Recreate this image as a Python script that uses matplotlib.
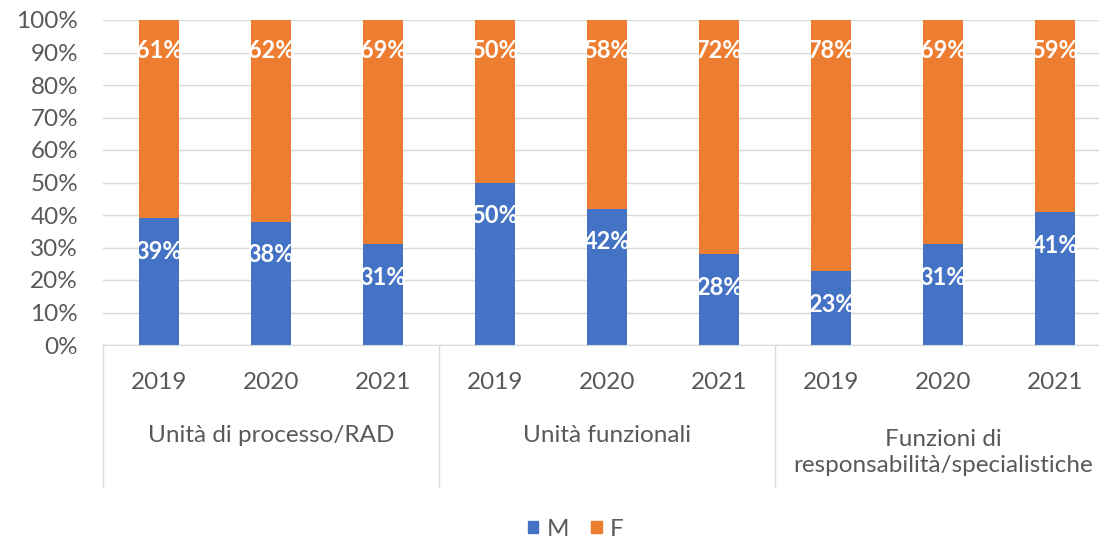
import matplotlib
matplotlib.use("Agg")
import matplotlib.pyplot as plt
import matplotlib.transforms as mtransforms
from matplotlib.lines import Line2D
from matplotlib.patches import Patch

plt.rcParams['font.family'] = ['Lato', 'DejaVu Sans']

groups = ["Unità di processo/RAD", "Unità funzionali", "Funzioni di\nresponsabilità/specialistiche"]
years = ["2019", "2020", "2021"]
m_vals = [39, 38, 31, 50, 42, 28, 23, 31, 41]
f_vals = [61, 62, 69, 50, 58, 72, 78, 69, 59]
y_ticks = [0, 10, 20, 30, 40, 50, 60, 70, 80, 90, 100]

blue = "#4472C4"
orange = "#ED7D31"
gray_txt = "#595959"

fig = plt.figure(figsize=(10.99, 5.42), dpi=100)
ax = fig.add_axes([103/1099, 1-345/542, (1111-103)/1099, 325/542])

n = len(m_vals)
xs = list(range(n))
m_pct = [m / (m + f) * 100 for m, f in zip(m_vals, f_vals)]
f_pct = [f / (m + f) * 100 for m, f in zip(m_vals, f_vals)]

ax.bar(xs, m_pct, width=0.36, color=blue, zorder=2)
ax.bar(xs, f_pct, bottom=m_pct, width=0.36, color=orange, zorder=2)

for x, mp, fp, mv, fv in zip(xs, m_pct, f_pct, m_vals, f_vals):
    ax.annotate(f"{mv}%", (x, mp), xytext=(0, -24), textcoords="offset points",
                ha="center", va="center", color="white", fontsize=17, fontweight="bold", zorder=3)
    ax.annotate(f"{fv}%", (x, mp + fp), xytext=(0, -22), textcoords="offset points",
                ha="center", va="center", color="white", fontsize=17, fontweight="bold", zorder=3)

ax.set_xlim(-0.5, n - 0.5)
ax.set_ylim(0, 100)
ax.set_yticks(y_ticks)
ax.set_yticklabels([f"{t}%" for t in y_ticks], color=gray_txt, fontsize=17.5)
ax.yaxis.grid(True, color="#D9D9D9", linewidth=1, zorder=0)
ax.set_axisbelow(True)
ax.tick_params(axis="y", length=0, pad=18)
ax.set_xticks([])
for s in ["left", "right", "top"]:
    ax.spines[s].set_visible(False)
ax.spines["bottom"].set_color("#D9D9D9")

trans = mtransforms.blended_transform_factory(ax.transData, ax.transAxes)
for i, x in enumerate(xs):
    ax.text(x, -0.114, years[i % 3], transform=trans, ha="center", va="center",
            color=gray_txt, fontsize=17.5)
for g, name in enumerate(groups):
    cx = g * 3 + 1
    yy = -0.277 if "\n" not in name else -0.33
    ax.text(cx, yy, name, transform=trans, ha="center", va="center",
            color=gray_txt, fontsize=17.5, linespacing=1.3)
for b in [-0.5, 2.5, 5.5, 8.5]:
    ax.add_line(Line2D([b, b], [0, -0.437], transform=trans, color="#D9D9D9",
                       linewidth=1, clip_on=False))

handles = [Patch(color=blue, label="M"), Patch(color=orange, label="F")]
fig.legend(handles=handles, loc="center", bbox_to_anchor=(576/1099, 1-529/542), ncol=2,
           frameon=False, fontsize=17.5, handlelength=0.42, handleheight=0.42,
           columnspacing=0.9, handletextpad=0.35, labelcolor=gray_txt)

fig.savefig("out.png", dpi=100)
